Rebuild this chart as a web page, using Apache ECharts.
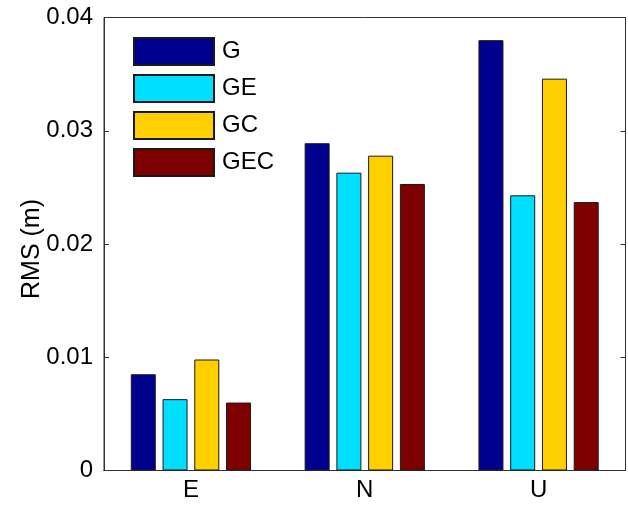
<!DOCTYPE html>
<html>
<head>
<meta charset="utf-8">
<script src="https://cdn.jsdelivr.net/npm/echarts@6/dist/echarts.min.js"></script>
<style>
  html, body { margin: 0; padding: 0; background: #fff; }
  #chart { width: 628px; height: 505px; }
</style>
</head>
<body>
<div id="chart"></div>
<script>
// Positioning components and RMS error per solution type
const categories = ['E', 'N', 'U'];
const seriesNames = ['G', 'GE', 'GC', 'GEC'];
const rmsG   = [0.0085, 0.0289, 0.0380];
const rmsGE  = [0.0063, 0.0263, 0.0243];
const rmsGC  = [0.0098, 0.0278, 0.0346];
const rmsGEC = [0.0060, 0.0253, 0.0237];
const yTicks = [0, 0.01, 0.02, 0.03, 0.04];

const seriesValues = [rmsG, rmsGE, rmsGC, rmsGEC];
const colors = ['#00008f', '#00dfff', '#ffcf00', '#7f0000'];
const font = '"Liberation Sans", Arial, sans-serif';
const frameColor = '#333';

const chart = echarts.init(document.getElementById('chart'));

const series = seriesNames.map((name, i) => ({
  name: name,
  type: 'bar',
  data: seriesValues[i],
  barWidth: 25,
  barGap: '27%',
  itemStyle: { color: colors[i], borderColor: '#1a1a1a', borderWidth: 1 },
  emphasis: { disabled: true }
}));

chart.setOption({
  animation: false,
  textStyle: { fontFamily: font },
  grid: {
    left: 104, right: 2.5, top: 17.5, bottom: 34.5,
    show: true, borderColor: frameColor, borderWidth: 1, backgroundColor: 'transparent'
  },
  legend: {
    orient: 'vertical',
    left: 133, top: 37,
    padding: 0,
    itemWidth: 80, itemHeight: 27, itemGap: 8,
    icon: 'rect',
    data: seriesNames,
    textStyle: { fontSize: 24, color: '#000', fontFamily: font, padding: [0, 0, 0, 3] },
    selectedMode: false
  },
  xAxis: [{
    type: 'category',
    data: categories,
    position: 'bottom',
    axisLine: { lineStyle: { color: frameColor, width: 1 } },
    axisTick: { alignWithLabel: true, inside: true, length: 5, lineStyle: { color: frameColor } },
    axisLabel: { fontSize: 24, color: '#000', margin: 8, fontFamily: font },
    splitLine: { show: false }
  }, {
    type: 'category',
    data: categories,
    position: 'top',
    axisLine: { lineStyle: { color: frameColor, width: 1 } },
    axisTick: { alignWithLabel: true, inside: true, length: 5, lineStyle: { color: frameColor } },
    axisLabel: { show: false },
    splitLine: { show: false }
  }],
  yAxis: [{
    type: 'value',
    min: yTicks[0], max: yTicks[yTicks.length - 1], interval: 0.01,
    position: 'left',
    name: 'RMS (m)',
    nameLocation: 'middle',
    nameGap: 59,
    nameMoveOverlap: false,
    nameTextStyle: { fontSize: 25, color: '#000', fontFamily: font, padding: [0, 10, 0, 0] },
    axisLine: { show: true, lineStyle: { color: frameColor, width: 1 } },
    axisTick: { show: true, inside: true, length: 5, lineStyle: { color: frameColor } },
    axisLabel: {
      fontSize: 24, color: '#000', margin: 11, fontFamily: font,
      formatter: v => (v === 0 ? '0' : v.toFixed(2))
    },
    splitLine: { show: false }
  }, {
    type: 'value',
    min: yTicks[0], max: yTicks[yTicks.length - 1], interval: 0.01,
    position: 'right',
    axisLine: { show: true, lineStyle: { color: frameColor, width: 1 } },
    axisTick: { show: true, inside: true, length: 5, lineStyle: { color: frameColor } },
    axisLabel: { show: false },
    splitLine: { show: false }
  }],
  series: series
});
</script>
</body>
</html>
